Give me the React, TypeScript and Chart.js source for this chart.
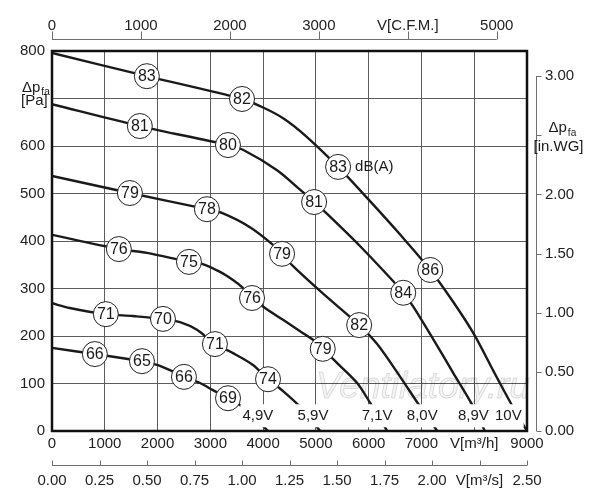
import React, { useEffect, useRef } from 'react';
import { Chart, registerables } from 'chart.js';

Chart.register(...registerables);

const FONT = "'Liberation Sans', Arial, sans-serif";
const INK = '#1a1a1a';

// ---- axis ranges / ticks ----
const FLOW_MAX = 9000; // m3/h
const PRESSURE_MAX = 800; // Pa
const CFM_MAX = 5340; // top axis span equal to 9000 m3/h
const INWG_MAX = 800 / 249.09; // right axis span equal to 800 Pa
const M3S_MAX = 2.5; // second bottom axis span equal to 9000 m3/h

const FLOW_TICKS = [0, 1000, 2000, 3000, 4000, 5000, 6000, 7000, 8000, 9000];
const PRESSURE_TICKS = [0, 100, 200, 300, 400, 500, 600, 700, 800];
const CFM_TICKS = [0, 1000, 2000, 3000, 4000, 5000];
const INWG_TICKS = [0, 0.5, 1, 1.5, 2, 2.5, 3];
const M3S_TICKS = [0, 0.25, 0.5, 0.75, 1, 1.25, 1.5, 1.75, 2, 2.25, 2.5];

// ---- fan curves [m3/h, Pa] ----
const CURVE_10V: [number, number][] = [
  [0, 796], [1797, 747], [3600, 699], [4000, 681], [4400, 657], [4800, 622], [5421, 556],
  [6000, 487], [6600, 413], [7167, 339], [7600, 272], [8000, 203], [8370, 125], [8750, 47],
  [9000, 0],
];
const CURVE_8_9V: [number, number][] = [
  [0, 688], [1664, 642], [3334, 602], [3618, 592], [4264, 549], [4700, 508], [4966, 482],
  [5213, 457], [5839, 389], [6409, 322], [6655, 291], [6845, 262], [7225, 193], [7604, 122],
  [7983, 51], [8200, 0],
];
const CURVE_8_0V: [number, number][] = [
  [0, 537], [1476, 501], [2935, 467], [3220, 459], [3751, 429], [4188, 392], [4359, 373],
  [4568, 347], [5137, 289], [5820, 223], [6161, 183], [6598, 114], [6940, 57], [7300, 0],
];
const CURVE_7_1V: [number, number][] = [
  [0, 413], [1267, 383], [1798, 375], [2595, 356], [2842, 352], [3183, 335], [3429, 318],
  [3600, 303], [3790, 280], [4037, 259], [4378, 234], [4757, 206], [4947, 192], [5130, 173],
  [5403, 143], [5782, 101], [6029, 59], [6351, 0],
];
const CURVE_5_9V: [number, number][] = [
  [0, 269], [336, 259], [1020, 246], [1533, 242], [2102, 236], [2425, 229], [2747, 213],
  [3087, 183], [3429, 164], [3808, 139], [4093, 109], [4378, 84], [4700, 51], [5080, 0],
];
const CURVE_4_9V: [number, number][] = [
  [0, 175], [812, 162], [1704, 147], [1988, 139], [2235, 128], [2500, 114], [2804, 101],
  [3050, 86], [3335, 69], [3619, 50], [4093, 0],
];
const CURVES = [CURVE_10V, CURVE_8_9V, CURVE_8_0V, CURVE_7_1V, CURVE_5_9V, CURVE_4_9V];

// ---- sound level markers ----
const MARK_X = [1797, 3600, 5421, 7167, 1664, 3334, 4966, 6655, 1476, 2935, 4359, 5820, 1267, 2595, 3790, 5130, 1020, 2102, 3087, 4093, 812, 1704, 2500, 3335];
const MARK_Y = [747, 699, 556, 339, 642, 602, 482, 291, 501, 467, 373, 223, 383, 356, 280, 173, 246, 236, 183, 109, 162, 147, 114, 69];
const MARK_DB = [83, 82, 83, 86, 81, 80, 81, 84, 79, 78, 79, 82, 76, 75, 76, 79, 71, 70, 71, 74, 66, 65, 66, 69];
const DBA_MARK_INDEX = 2;

// ---- voltage labels ----
const VOLT_LABELS = ['4,9V', '5,9V', '7,1V', '8,0V', '8,9V', '10V'];
const VOLT_LABEL_X = [3900, 4946, 6160, 7015, 7983, 8647];
const VOLT_LABEL_Y = 31;

const WATERMARK = 'Ventilatory.ru';

function drawDeltaP(ctx: CanvasRenderingContext2D, x: number, y: number) {
  ctx.textAlign = 'left';
  ctx.textBaseline = 'middle';
  ctx.font = `15px ${FONT}`;
  ctx.fillText('Δp', x, y);
  const w = ctx.measureText('Δp').width;
  ctx.font = `10px ${FONT}`;
  ctx.fillText('fa', x + w + 1, y + 5);
}

const decorPlugin = {
  id: 'fanDecor',
  beforeDatasetsDraw(chart: any) {
    const { ctx, chartArea } = chart;
    ctx.save();
    ctx.font = `italic 37px ${FONT}`;
    ctx.textAlign = 'center';
    ctx.textBaseline = 'alphabetic';
    ctx.fillStyle = 'rgba(0,0,0,0.04)';
    ctx.strokeStyle = 'rgba(0,0,0,0.14)';
    ctx.lineWidth = 1;
    const x = chartArea.right - 104;
    const y = chartArea.bottom - 33;
    ctx.fillText(WATERMARK, x, y);
    ctx.strokeText(WATERMARK, x, y);
    ctx.restore();
  },
  afterDatasetsDraw(chart: any) {
    const { ctx, chartArea, scales } = chart;
    const xs = scales.x;
    const ys = scales.y;
    const x2 = scales.x2;
    const x3 = scales.x3;
    const y2 = scales.y2;
    ctx.save();

    // numbers in circles
    const meta = chart.getDatasetMeta(0);
    ctx.fillStyle = INK;
    ctx.font = `16px ${FONT}`;
    ctx.textAlign = 'center';
    ctx.textBaseline = 'middle';
    meta.data.forEach((el: any, i: number) => {
      ctx.fillText(String(MARK_DB[i]), el.x, el.y + 0.5);
    });
    const dbaEl = meta.data[DBA_MARK_INDEX];
    ctx.font = `15px ${FONT}`;
    ctx.textAlign = 'left';
    ctx.fillText('dB(A)', dbaEl.x + 17, dbaEl.y);

    // voltage labels on white boxes
    ctx.font = `15px ${FONT}`;
    ctx.textAlign = 'center';
    VOLT_LABELS.forEach((t, i) => {
      const px = xs.getPixelForValue(VOLT_LABEL_X[i]);
      const py = ys.getPixelForValue(VOLT_LABEL_Y);
      const w = ctx.measureText(t).width + 4;
      ctx.fillStyle = '#ffffff';
      ctx.fillRect(px - w / 2, py - 12, w, 23);
      ctx.fillStyle = INK;
      ctx.fillText(t, px, py);
    });

    // plot frame
    ctx.strokeStyle = '#111';
    ctx.lineWidth = 2.5;
    ctx.strokeRect(chartArea.left, chartArea.top, chartArea.right - chartArea.left, chartArea.bottom - chartArea.top);

    // secondary axes: lines and tick marks
    ctx.strokeStyle = '#6e6e6e';
    ctx.lineWidth = 1;
    ctx.beginPath();
    // top CFM axis
    const yTop = Math.round(x3.bottom - 12) + 0.5;
    ctx.moveTo(x3.getPixelForValue(CFM_TICKS[0]), yTop);
    ctx.lineTo(x3.getPixelForValue(CFM_TICKS[CFM_TICKS.length - 1]), yTop);
    CFM_TICKS.forEach((v) => {
      const p = Math.round(x3.getPixelForValue(v)) + 0.5;
      ctx.moveTo(p, yTop);
      ctx.lineTo(p, yTop - 8);
    });
    // right in.WG axis
    const xRight = Math.round(y2.left + 9) + 0.5;
    ctx.moveTo(xRight, y2.getPixelForValue(INWG_TICKS[0]));
    ctx.lineTo(xRight, y2.getPixelForValue(INWG_TICKS[INWG_TICKS.length - 1]));
    INWG_TICKS.forEach((v) => {
      const p = Math.round(y2.getPixelForValue(v)) + 0.5;
      ctx.moveTo(xRight, p);
      ctx.lineTo(xRight + 5, p);
    });
    // bottom m3/s axis
    const yBot = Math.round(x2.top) + 0.5;
    ctx.moveTo(x2.getPixelForValue(M3S_TICKS[0]), yBot);
    ctx.lineTo(x2.getPixelForValue(M3S_TICKS[M3S_TICKS.length - 1]), yBot);
    M3S_TICKS.forEach((v) => {
      const p = Math.round(x2.getPixelForValue(v)) + 0.5;
      ctx.moveTo(p, yBot);
      ctx.lineTo(p, yBot - 5);
    });
    ctx.stroke();

    // axis titles
    ctx.fillStyle = INK;
    const yPa = ys.getPixelForValue(700);
    drawDeltaP(ctx, 22, yPa - 11);
    ctx.font = `15px ${FONT}`;
    ctx.textAlign = 'left';
    ctx.fillText('[Pa]', 21, yPa + 2);
    const yIn = y2.getPixelForValue(2.5);
    drawDeltaP(ctx, xRight + 12, yIn - 7);
    ctx.font = `15px ${FONT}`;
    ctx.textAlign = 'center';
    ctx.fillText('[in.WG]', xRight + 22, yIn + 12);

    ctx.restore();
  },
};

export default function App() {
  const ref = useRef<HTMLCanvasElement | null>(null);

  useEffect(() => {
    if (!ref.current) return;
    Chart.defaults.font.family = FONT;
    Chart.defaults.font.size = 15;
    Chart.defaults.color = '#222';

    const gridStyle = { color: '#5c5c5c', lineWidth: 1, drawTicks: false };
    const hiddenGrid = { display: false, drawTicks: false };
    const noBorder = { display: false };

    const chart = new Chart(ref.current, {
      type: 'line',
      data: {
        datasets: [
          {
            type: 'scatter',
            data: MARK_X.map((x, i) => ({ x, y: MARK_Y[i] })),
            pointRadius: 12.5,
            pointHoverRadius: 12.5,
            pointBackgroundColor: '#ffffff',
            pointBorderColor: '#222',
            pointBorderWidth: 1,
            showLine: false,
            order: 0,
            xAxisID: 'x',
            yAxisID: 'y',
          } as any,
          ...CURVES.map((c) => ({
            type: 'line',
            data: c.map(([x, y]) => ({ x, y })),
            borderColor: INK,
            borderWidth: 2.4,
            pointRadius: 0,
            fill: false,
            tension: 0.3,
            order: 1,
            xAxisID: 'x',
            yAxisID: 'y',
          } as any)),
        ],
      },
      options: {
        animation: false,
        responsive: false,
        events: [],
        layout: { padding: 0 },
        plugins: { legend: { display: false }, tooltip: { enabled: false } },
        scales: {
          x: {
            type: 'linear',
            position: 'bottom',
            weight: 0,
            min: 0,
            max: FLOW_MAX,
            grid: gridStyle,
            border: noBorder,
            afterBuildTicks: (s: any) => { s.ticks = FLOW_TICKS.map((value) => ({ value })); },
            afterFit: (s: any) => { s.height = 34; },
            ticks: {
              padding: 4,
              autoSkip: false,
              maxRotation: 0,
              minRotation: 0,
              callback: (v: any) => (v === 8000 ? 'V[m³/h]' : String(v)),
            },
          },
          x2: {
            type: 'linear',
            position: 'bottom',
            weight: 1,
            min: 0,
            max: M3S_MAX,
            grid: hiddenGrid,
            border: noBorder,
            afterBuildTicks: (s: any) => { s.ticks = M3S_TICKS.map((value) => ({ value })); },
            afterFit: (s: any) => { s.height = 35; },
            ticks: {
              padding: 7,
              autoSkip: false,
              maxRotation: 0,
              minRotation: 0,
              callback: (v: any) => (Math.abs(v - 2.25) < 1e-6 ? 'V[m³/s]' : Number(v).toFixed(2)),
            },
          },
          x3: {
            type: 'linear',
            position: 'top',
            min: 0,
            max: CFM_MAX,
            grid: hiddenGrid,
            border: noBorder,
            afterBuildTicks: (s: any) => { s.ticks = CFM_TICKS.map((value) => ({ value })); },
            afterFit: (s: any) => { s.height = 51; },
            ticks: {
              padding: 16,
              autoSkip: false,
              maxRotation: 0,
              minRotation: 0,
              callback: (v: any) => (v === 4000 ? 'V[C.F.M.]' : String(v)),
            },
          },
          y: {
            type: 'linear',
            position: 'left',
            min: 0,
            max: PRESSURE_MAX,
            grid: gridStyle,
            border: noBorder,
            afterBuildTicks: (s: any) => { s.ticks = PRESSURE_TICKS.map((value) => ({ value })); },
            afterFit: (s: any) => { s.width = 52; },
            ticks: {
              padding: 7,
              autoSkip: false,
              callback: (v: any) => (v === 700 ? '' : String(v)),
            },
          },
          y2: {
            type: 'linear',
            position: 'right',
            min: 0,
            max: INWG_MAX,
            grid: hiddenGrid,
            border: noBorder,
            afterBuildTicks: (s: any) => { s.ticks = INWG_TICKS.map((value) => ({ value })); },
            afterFit: (s: any) => { s.width = 73; },
            ticks: {
              padding: 18,
              autoSkip: false,
              callback: (v: any) => (Math.abs(v - 2.5) < 1e-6 ? '' : Number(v).toFixed(2)),
            },
          },
        },
      } as any,
      plugins: [decorPlugin],
    });

    return () => chart.destroy();
  }, []);

  return (
    <div style={{ position: 'fixed', left: 0, top: 0, width: 600, height: 500, background: '#fff' }}>
      <canvas ref={ref} width={600} height={500} style={{ width: 600, height: 500, display: 'block' }} />
    </div>
  );
}
